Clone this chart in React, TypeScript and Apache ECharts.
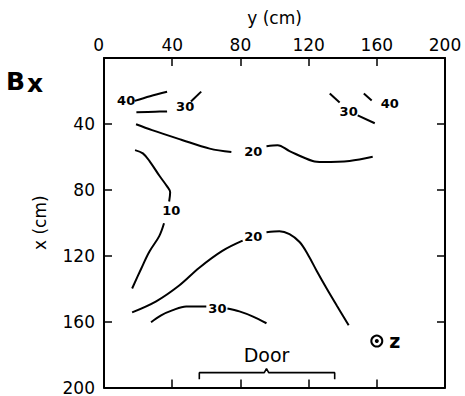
import React, { useEffect, useRef } from "react";
import * as echarts from "echarts";

// Axis scale (cm)
const axisMin = 0;
const axisMax = 200;
const axisStep = 40;
const topTickLabels = ["0", "40", "80", "120", "160", "200"];
const leftTickLabels = ["", "40", "80", "120", "160", "200"];

// Contour segments: [y (cm, horizontal), x (cm, vertical)]
const c40LeftA = [[18, 26], [27, 23.2], [37, 20.5]];
const c30LeftA = [[19, 33], [30, 32.6], [37, 32.4]];
const c30LeftB = [[51, 26.4], [57, 20.4]];
const c30RightA = [[132.4, 21.6], [138.2, 27]];
const c30RightB = [[148.8, 34.8], [158.8, 39.6]];
const c40RightA = [[152.4, 21.6], [157, 25.8]];
const c20UpperA = [[18.8, 40.2], [28.2, 43.8], [45.3, 49.6], [62, 55], [74.7, 57.1]];
const c20UpperB = [[95.3, 53.5], [101.8, 52.9], [108.8, 56.5], [122.4, 62.5], [128.2, 63.1], [144, 62.5], [157.6, 60]];
const c10A = [[18.2, 55.9], [22.8, 57.9], [27, 63], [32.5, 71.5], [37.1, 78.1], [38.8, 81.5], [38.2, 87.1]];
const c10B = [[35.2, 100.3], [32.4, 108.1], [26.5, 117.7], [21.8, 127.9], [16.5, 139.9]];
const c20LowerA = [[16.5, 154.4], [30.6, 147.7], [44.1, 138.1], [55.9, 127.3], [69.4, 117.1], [81.3, 110.9]];
const c20LowerB = [[95.3, 105.7], [102.9, 105.1], [108.8, 106.9], [114.7, 111.7], [119.4, 118.9], [124.7, 129.1], [130.6, 139.9], [136.5, 150.2], [143.5, 162.2]];
const c30LowerA = [[27.6, 160.4], [33.5, 156.2], [40, 153.2], [48.2, 150.8], [60, 150.8]];
const c30LowerB = [[72.4, 152], [79.4, 153.8], [87.1, 156.8], [95.3, 161]];

const contourSegments = [
  c40LeftA, c30LeftA, c30LeftB, c30RightA, c30RightB, c40RightA,
  c20UpperA, c20UpperB, c10A, c10B, c20LowerA, c20LowerB, c30LowerA, c30LowerB,
];

// Contour labels: [y, x, text]
const contourLabels = [
  [13, 25.8, "40"],
  [47.6, 29.7, "30"],
  [143.5, 32.7, "30"],
  [167.6, 27.6, "40"],
  [87.6, 56.5, "20"],
  [39.4, 92.5, "10"],
  [87.6, 108.4, "20"],
  [66.5, 152, "30"],
];

// Door bracket and label
const doorBracket = [[55.9, 195], [55.9, 191], [94, 191], [95.3, 188.6], [96.6, 191], [135.3, 191], [135.3, 195]];
const doorLabel = [[95.3, 180.5, "Door"]];

// z-axis marker
const zMarker = [[160, 171.8]];

const FONT = "DejaVu Sans";

export default function App() {
  const ref = useRef<HTMLDivElement>(null);
  useEffect(() => {
    if (!ref.current) return;
    const chart = echarts.init(ref.current, null, { renderer: "svg" });
    const lineStyle = { color: "#000", width: 2 };
    const series: any[] = contourSegments.map((seg) => ({
      type: "line",
      data: seg,
      xAxisIndex: 0,
      yAxisIndex: 0,
      showSymbol: false,
      symbol: "none",
      smooth: 0.35,
      lineStyle,
      silent: true,
    }));
    series.push({
      type: "line",
      data: doorBracket,
      showSymbol: false,
      symbol: "none",
      lineStyle: { color: "#000", width: 1.6 },
      silent: true,
    });
    const textLabel = (size: number, weight: string) => ({
      show: true,
      position: "inside",
      formatter: (p: any) => p.value[2],
      color: "#000",
      opacity: 1,
      textBorderWidth: 0,
      fontFamily: FONT,
      fontSize: size,
      fontWeight: weight,
    });
    series.push({
      type: "scatter",
      data: contourLabels,
      symbol: "rect",
      symbolSize: 1,
      itemStyle: { color: "rgba(0,0,0,0)", opacity: 1 },
      label: textLabel(13, "bold"),
      silent: true,
    });
    series.push({
      type: "scatter",
      data: doorLabel,
      symbol: "rect",
      symbolSize: 1,
      itemStyle: { color: "rgba(0,0,0,0)", opacity: 1 },
      label: textLabel(19, "normal"),
      silent: true,
    });
    series.push({
      type: "scatter",
      data: zMarker,
      symbol: "circle",
      symbolSize: 11,
      itemStyle: { color: "#fff", borderColor: "#000", borderWidth: 2, opacity: 1 },
      label: {
        show: true,
        position: "right",
        distance: 6,
        formatter: "z",
        color: "#000",
        textBorderWidth: 0,
        fontFamily: FONT,
        fontSize: 19,
        fontWeight: "bold",
      },
      silent: true,
    });
    series.push({
      type: "scatter",
      data: zMarker,
      symbol: "circle",
      symbolSize: 4,
      itemStyle: { color: "#000", opacity: 1 },
      silent: true,
    });

    const axisLine = { show: true, onZero: false, lineStyle: { color: "#000", width: 2 } };
    const axisTick = { show: true, inside: true, length: 8, lineStyle: { color: "#000", width: 1.5 } };

    chart.setOption({
      animation: false,
      backgroundColor: "#fff",
      grid: { left: 104, right: 20, top: 58, bottom: 7 },
      xAxis: [
        {
          type: "value",
          position: "top",
          min: axisMin,
          max: axisMax,
          interval: axisStep,
          name: "y (cm)",
          nameLocation: "middle",
          nameGap: 32,
          nameTextStyle: { color: "#000", fontFamily: FONT, fontSize: 17 },
          axisLine,
          axisTick,
          splitLine: { show: false },
          axisLabel: {
            color: "#000",
            fontFamily: FONT,
            fontSize: 17,
            margin: 5,
            alignMinLabel: "right",
            formatter: (v: number) => topTickLabels[Math.round(v / axisStep)] ?? "",
          },
        },
        {
          type: "value",
          position: "bottom",
          min: axisMin,
          max: axisMax,
          interval: axisStep,
          axisLine,
          axisTick,
          splitLine: { show: false },
          axisLabel: { show: false },
        },
      ],
      yAxis: [
        {
          type: "value",
          inverse: true,
          position: "left",
          min: axisMin,
          max: axisMax,
          interval: axisStep,
          name: "x (cm)",
          nameLocation: "middle",
          nameGap: 56,
          nameTextStyle: { color: "#000", fontFamily: FONT, fontSize: 17 },
          axisLine,
          axisTick,
          splitLine: { show: false },
          axisLabel: {
            color: "#000",
            fontFamily: FONT,
            fontSize: 17,
            margin: 9,
            formatter: (v: number) => leftTickLabels[Math.round(v / axisStep)] ?? "",
          },
        },
        {
          type: "value",
          inverse: true,
          position: "right",
          min: axisMin,
          max: axisMax,
          interval: axisStep,
          axisLine,
          axisTick,
          splitLine: { show: false },
          axisLabel: { show: false },
        },
      ],
      graphic: [
        {
          type: "text",
          left: 6,
          top: 69,
          style: { text: "B", fontFamily: FONT, fontSize: 25, fontWeight: "bold", fill: "#000" },
        },
        {
          type: "text",
          left: 27,
          top: 71,
          style: { text: "x", fontFamily: FONT, fontSize: 25, fontWeight: "bold", fill: "#000" },
        },
      ],
      series,
    });
    return () => chart.dispose();
  }, []);
  return (
    <div
      ref={ref}
      style={{ position: "fixed", left: 0, top: 0, width: 465, height: 396, background: "#fff" }}
    />
  );
}
